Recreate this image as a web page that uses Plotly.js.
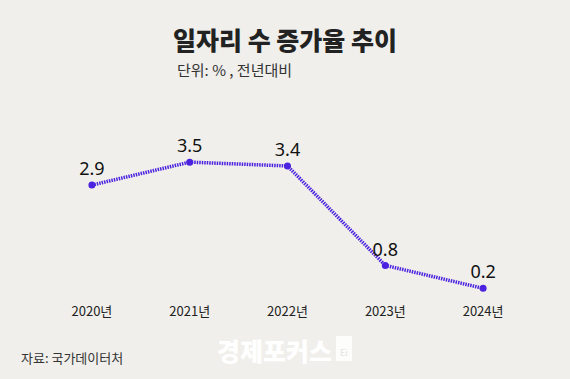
<!DOCTYPE html>
<html><head><meta charset="utf-8">
<script src="https://cdn.plot.ly/plotly-3.0.1.min.js"></script>
<style>html,body{margin:0;padding:0;background:#f0efeb;}</style>
</head><body>
<div id="chart" style="width:570px;height:379px;"></div>
<script>
const years = ["2020년", "2021년", "2022년", "2023년", "2024년"];
const growth = [2.9, 3.5, 3.4, 0.8, 0.2];
const labels = ["2.9", "3.5", "3.4", "0.8", "0.2"];

const font = "'Noto Sans CJK KR', 'Noto Sans', sans-serif";
const trace = {
  x: years, y: growth, type: "scatter", mode: "lines+markers+text",
  text: labels, textposition: "top center",
  textfont: {family: "'Noto Sans', 'Noto Sans CJK KR', sans-serif", size: 18, color: "#111"},
  line: {color: "#4a22e0", width: 3.5, dash: "1.5px,1px"},
  marker: {color: "#4a22e0", size: 7},
  cliponaxis: false, hoverinfo: "none"
};
const PW = 489, PH = 153, T = 143;
const py = (y) => (379 - 83 - y) / PH;
const px = (x) => (x - 43) / PW;
const layout = {
  width: 570, height: 379,
  paper_bgcolor: "#f0efeb", plot_bgcolor: "#f0efeb",
  margin: {l: 43, r: 38, t: T, b: 83},
  showlegend: false,
  xaxis: {type: "category", range: [-0.5, 4.5], showgrid: false, zeroline: false, showline: false,
          ticks: "", ticklabelstandoff: 6, tickfont: {family: font, size: 13, color: "#222"}},
  yaxis: {range: [0, 4], visible: false},
  title: {text: "일자리 수 증가율 추이", x: 0.5, xanchor: "center", y: 0.89, yanchor: "middle",
          font: {family: font, size: 25, color: "#222", weight: 900}},
  shapes: [
    {type: "rect", xref: "paper", yref: "paper", x0: px(336), x1: px(352), y0: py(361), y1: py(336),
     fillcolor: "rgba(255,255,255,0.85)", line: {width: 0}, layer: "above"}
  ],
  annotations: [
    {text: "단위: % , 전년대비", xref: "paper", yref: "paper", x: px(175), y: py(70), showarrow: false,
     xanchor: "left", yanchor: "middle", font: {family: font, size: 15, color: "#333"}},
    {text: "자료: 국가데이터처", xref: "paper", yref: "paper", x: px(19), y: py(357), showarrow: false,
     xanchor: "left", yanchor: "middle", font: {family: font, size: 13, color: "#333"}},
    {text: "경제포커스", xref: "paper", yref: "paper", x: px(334), y: py(350), showarrow: false,
     xanchor: "right", yanchor: "middle", font: {family: font, size: 25, color: "#ffffff", weight: 900}},
    {text: "Ei", xref: "paper", yref: "paper", x: px(344), y: py(352), showarrow: false,
     xanchor: "center", yanchor: "middle", font: {family: font, size: 9, color: "#e4e3de"}}
  ]
};
Plotly.newPlot("chart", [trace], layout, {displayModeBar: false, staticPlot: true});
</script>
</body></html>
